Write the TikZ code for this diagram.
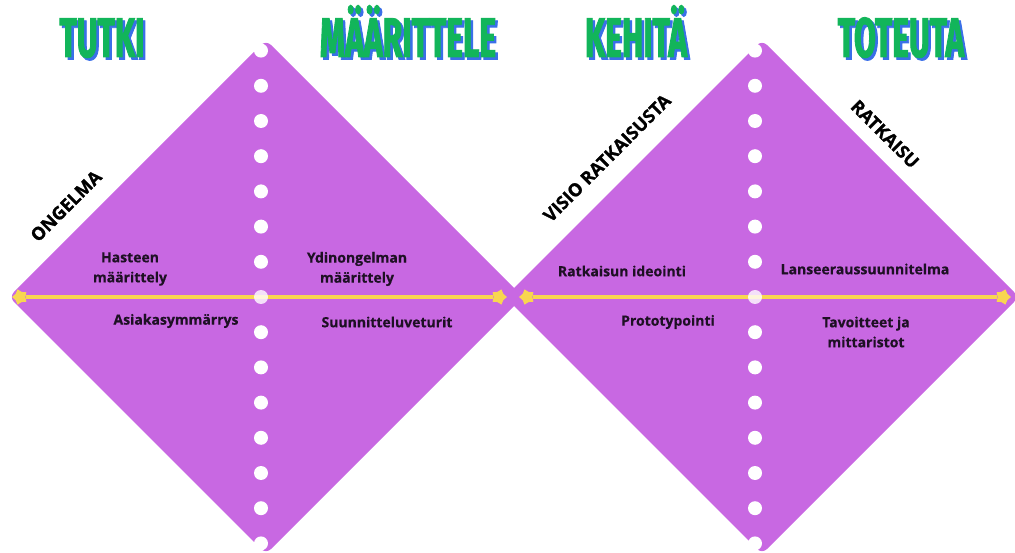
\documentclass[tikz,border=0pt]{standalone}
\usepackage{fontspec}
\setmainfont{Open Sans}
\newfontfamily\titlefont[FakeStretch=0.57,FakeBold=1.5]{Fira Sans}
\newfontfamily\heavyfont[FakeBold=1]{Open Sans}
\newfontfamily\stepfont[FakeBold=0.5]{Open Sans}
\usetikzlibrary{shapes.geometric}
\definecolor{DiaPurple}{HTML}{C868E2}
\definecolor{LineYellow}{HTML}{F8D650}
\definecolor{PhaseGreen}{HTML}{12B55A}
\definecolor{PhaseBlue}{HTML}{3A6FE8}
\definecolor{LabelDark}{HTML}{1E1024}
\newcommand{\phasetext}[1]{\rlap{\hspace{2.5pt}\raisebox{-2.5pt}{\textcolor{PhaseBlue}{#1}}}#1}
\tikzset{
  diamondbg/.style={fill=DiaPurple, rounded corners=7pt},
  hole/.style={circle, fill=white, minimum size=14pt, inner sep=0pt},
  phasetitle/.style={font=\titlefont\fontsize{56}{56}\selectfont\bfseries,
                     text=PhaseGreen, anchor=base, inner sep=0pt},
  edgelabel/.style={font=\heavyfont\fontsize{18}{20}\selectfont\bfseries, text=black},
  steplabel/.style={font=\stepfont\fontsize{14}{20}\selectfont\bfseries, text=LabelDark,
                    align=center},
  endcap/.style={star, star points=5, star point ratio=1.5, fill=LineYellow,
                 minimum size=16pt, inner sep=0pt},
  yline/.style={LineYellow, line width=4.5pt},
}

\begin{document}
\begin{tikzpicture}[x=1pt, y=-1pt]
  \useasboundingbox (0,0) rectangle (1015,553);
  \clip (0,0) rectangle (1015,553);

  % the two diamonds
  \fill[diamondbg] (9,297) -- (266,40) -- (523,297) -- (266,554) -- cycle;
  \fill[diamondbg] (505,297) -- (762,40) -- (1019,297) -- (762,554) -- cycle;

  % phase titles
  \node[phasetitle] (tutki) at (102,57) {\phasetext{TUTKI}};
  \node[phasetitle] (maarittele) at (408,57) {\phasetext{MÄÄRITTELE}};
  \node[phasetitle] (kehita) at (636,57) {\phasetext{KEHITÄ}};
  \node[phasetitle] (toteuta) at (901,57) {\phasetext{TOTEUTA}};

  % time axes
  \node[endcap, rotate=90] (la) at (20,297) {};
  \node[endcap, rotate=-90] (lb) at (499,297) {};
  \node[endcap, rotate=90] (ra) at (527,297) {};
  \node[endcap, rotate=-90] (rb) at (1003,297) {};
  \draw[yline] (la) -- (lb);
  \draw[yline] (ra) -- (rb);

  % punched holes
  \foreach \i in {0,...,14} {
    \ifnum\i=7
      \node[hole, fill opacity=0.8] (lh\i) at (261,297+35.2*\i-246.4) {};
      \node[hole, fill opacity=0.8] (rh\i) at (755,297+35.2*\i-246.4) {};
    \else
      \node[hole] (lh\i) at (261,297+35.2*\i-246.4) {};
      \node[hole] (rh\i) at (755,297+35.2*\i-246.4) {};
    \fi
  }

  % edge labels
  \node[edgelabel, rotate=45] (ongelma) at (66,206) {ONGELMA};
  \node[edgelabel, rotate=45] (visio) at (607,158) {VISIO RATKAISUSTA};
  \node[edgelabel, rotate=-45] (ratkaisu) at (885,134) {RATKAISU};

  % steps
  \node[steplabel] (hasteen) at (130,269) {Hasteen\\määrittely};
  \node[steplabel] (ydin) at (357,269) {Ydinongelman\\määrittely};
  \node[steplabel] (asiakas) at (176,321) {Asiakasymmärrys};
  \node[steplabel] (veturit) at (387,322) {Suunnitteluveturit};
  \node[steplabel] (ideointi) at (622,271) {Ratkaisun ideointi};
  \node[steplabel] (lanseeraus) at (865,269) {Lanseeraussuunnitelma};
  \node[steplabel] (proto) at (668,322) {Prototypointi};
  \node[steplabel] (tavoitteet) at (866,332) {Tavoitteet ja\\mittaristot};
\end{tikzpicture}
\end{document}
